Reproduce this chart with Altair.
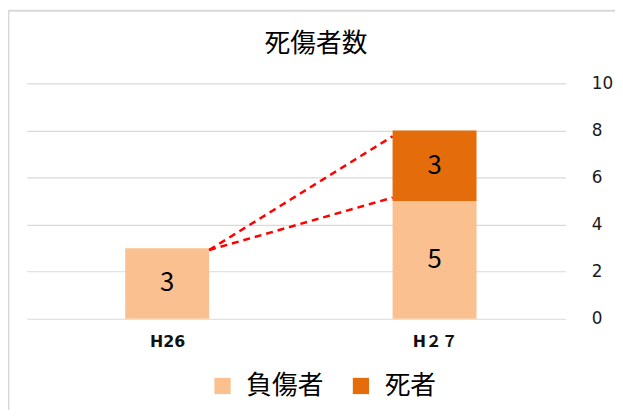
import altair as alt
import pandas as pd

# data
years = ["H26", "H２７"]
injured = [3, 5]
deaths = [0, 3]
series = ["負傷者", "死者"]
colors = ["#FAC090", "#E46C0A"]
# dashed connector lines: (start value at H26, end value at H27)
conn_start = [2.92, 2.92]
conn_end = [7.75, 5.15]

FONT = "Noto Sans CJK JP"
LATIN = "DejaVu Sans, Noto Sans CJK JP"
HW = 0.157  # bar half width in x units

rows = []
for i, yr in enumerate(years):
    base = 0
    for s, vals, o in ((series[0], injured, 0), (series[1], deaths, 1)):
        v = vals[i]
        if v > 0:
            rows.append({"xi": i, "year": yr, "series": s, "y0": base, "y1": base + v,
                         "mid": base + v / 2, "val": v, "order": o})
        base += v
bars_df = pd.DataFrame(rows)

line_rows = []
for k in range(len(conn_start)):
    line_rows.append({"line": k, "px": 0 + HW, "py": conn_start[k]})
    line_rows.append({"line": k, "px": 1 - HW, "py": conn_end[k]})
line_df = pd.DataFrame(line_rows)

xscale = alt.Scale(domain=[-0.525, 1.49], nice=False, zero=False)
yscale = alt.Scale(domain=[0, 10], nice=False)

label_expr = " : ".join([f"datum.value == {i} ? '{y}'" for i, y in enumerate(years)]) + " : ''"

base = alt.Chart(bars_df)

bars = base.transform_calculate(
    xa=f"datum.xi - {HW}", xb=f"datum.xi + {HW}"
).mark_bar().encode(
    x=alt.X("xa:Q", scale=xscale, title=None,
            axis=alt.Axis(values=list(range(len(years))), labelExpr=label_expr,
                          grid=False, domain=False, ticks=False, labelPadding=15,
                          labelFont=LATIN, labelFontSize=16, labelFontWeight="bold",
                          labelColor="#111111")),
    x2="xb:Q",
    y=alt.Y("y0:Q", scale=yscale, title=None,
            axis=alt.Axis(orient="right", values=[0, 2, 4, 6, 8, 10], domain=False,
                          ticks=False, labelPadding=26, labelAlign="left",
                          labelFont=LATIN, labelFontSize=17, labelColor="#1a1a1a",
                          gridColor="#D9D9D9", gridWidth=1.2)),
    y2="y1:Q",
    color=alt.Color("series:N", scale=alt.Scale(domain=series, range=colors),
                    legend=alt.Legend(title=None, orient="none", legendX=185, legendY=293,
                                      direction="horizontal", symbolType="square",
                                      symbolSize=270, labelFontSize=26, labelFont=FONT,
                                      labelColor="#000000", columnPadding=24, labelOffset=11,
                                      symbolStrokeWidth=0)),
)

texts = base.mark_text(font=FONT, fontSize=26, color="#000000", baseline="middle").encode(
    x=alt.X("xi:Q", scale=xscale),
    y=alt.Y("mid:Q", scale=yscale),
    text="val:Q",
)

lines = alt.Chart(line_df).mark_line(color="#FF0000", strokeWidth=2.5,
                                      strokeDash=[7, 5]).encode(
    x=alt.X("px:Q", scale=xscale),
    y=alt.Y("py:Q", scale=yscale),
    detail="line:N",
)

border_left = alt.Chart(pd.DataFrame({"a": [0]})).mark_rule(color="#D9D9D9", strokeWidth=2).encode(
    x=alt.value(-18.5), y=alt.value(-74), y2=alt.value(340))
border_top = alt.Chart(pd.DataFrame({"a": [0]})).mark_rule(color="#D9D9D9", strokeWidth=2).encode(
    x=alt.value(-19), x2=alt.value(600), y=alt.value(-73.5))

chart = alt.layer(border_left, border_top, bars, lines, texts).properties(
    width=545, height=238,
    title=alt.TitleParams("死傷者数", font=FONT, fontSize=26, fontWeight="normal",
                          color="#000000", offset=-48, anchor="middle", dx=20),
    autosize=alt.AutoSizeParams(type="none"),
    padding={"left": 19, "top": 74, "right": 50, "bottom": 90},
).configure(background="white").configure_view(stroke=None)

chart.save("out.html", embed_options={"renderer": "svg", "actions": False})
